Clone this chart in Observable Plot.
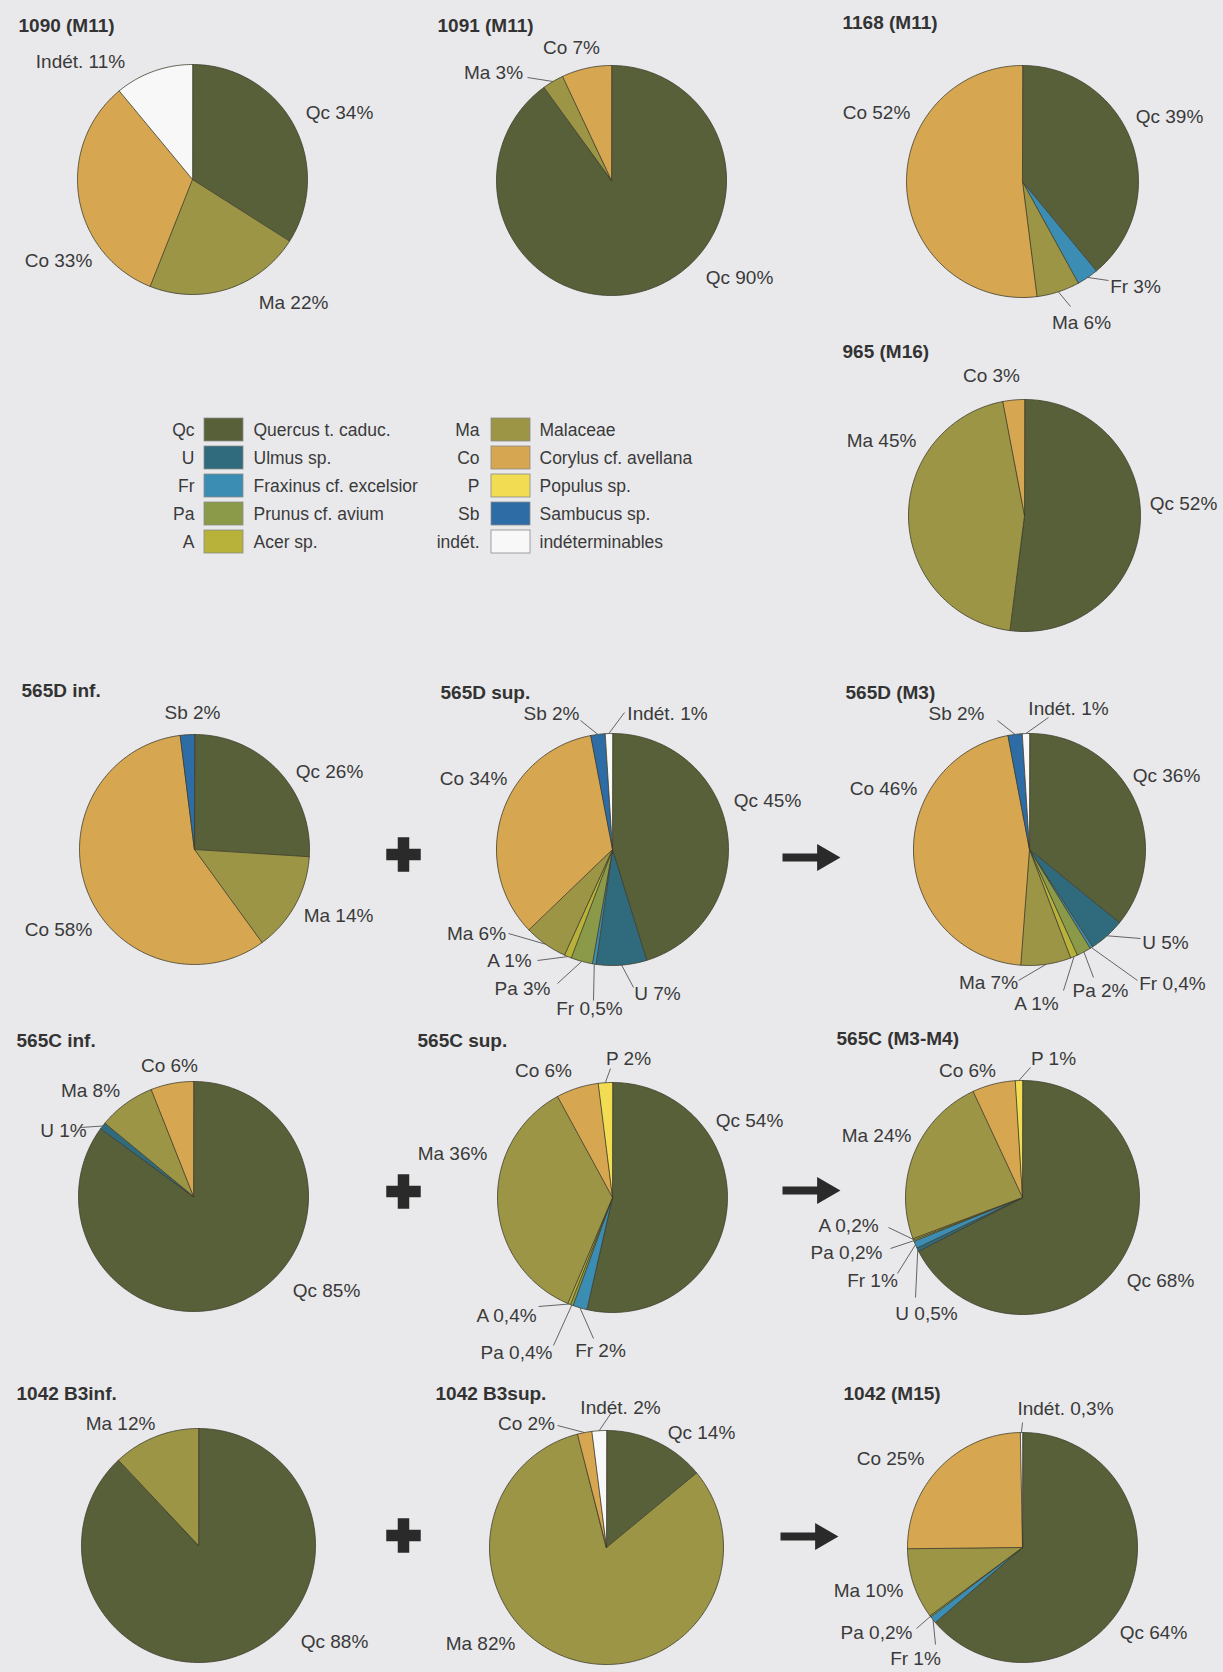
<!DOCTYPE html>
<html><head><meta charset="utf-8">
<script src="https://cdn.jsdelivr.net/npm/d3@7"></script>
<script src="https://cdn.jsdelivr.net/npm/@observablehq/plot@0.6"></script>
<style>
html,body{margin:0;padding:0;background:#e9e9eb;}
</style>
</head><body><div id="chart"></div>
<script>
// ---------- DATA ----------
const speciesKeys  = ["Qc","U","Fr","Pa","A","Ma","Co","P","Sb","Indét."];
const legendAbbr   = ["Qc","U","Fr","Pa","A","Ma","Co","P","Sb","indét."];
const speciesNames = ["Quercus t. caduc.","Ulmus sp.","Fraxinus cf. excelsior","Prunus cf. avium","Acer sp.",
                      "Malaceae","Corylus cf. avellana","Populus sp.","Sambucus sp.","indéterminables"];
const sampleNames  = ["1090 (M11)","1091 (M11)","1168 (M11)","965 (M16)",
                      "565D inf.","565D sup.","565D (M3)",
                      "565C inf.","565C sup.","565C (M3-M4)",
                      "1042 B3inf.","1042 B3sup.","1042 (M15)"];
// percentages, species order: Qc, U, Fr, Pa, A, Ma, Co, P, Sb, Indét.
const v1090     = [34, 0,   0,   0,   0,   22, 33, 0, 0, 11];
const v1091     = [90, 0,   0,   0,   0,   3,  7,  0, 0, 0];
const v1168     = [39, 0,   3,   0,   0,   6,  52, 0, 0, 0];
const v965      = [52, 0,   0,   0,   0,   45, 3,  0, 0, 0];
const v565Dinf  = [26, 0,   0,   0,   0,   14, 58, 0, 2, 0];
const v565Dsup  = [45, 7,   0.5, 3,   1,   6,  34, 0, 2, 1];
const v565DM3   = [36, 5,   0.4, 2,   1,   7,  46, 0, 2, 1];
const v565Cinf  = [85, 1,   0,   0,   0,   8,  6,  0, 0, 0];
const v565Csup  = [54, 0,   2,   0.4, 0.4, 36, 6,  2, 0, 0];
const v565CM34  = [68, 0.5, 1,   0.2, 0.2, 24, 6,  1, 0, 0];
const v1042inf  = [88, 0,   0,   0,   0,   12, 0,  0, 0, 0];
const v1042sup  = [14, 0,   0,   0,   0,   82, 2,  0, 0, 2];
const v1042M15  = [64, 0,   1,   0.2, 0,   10, 25, 0, 0, 0.3];
const sampleValues = [v1090,v1091,v1168,v965,v565Dinf,v565Dsup,v565DM3,v565Cinf,v565Csup,v565CM34,v1042inf,v1042sup,v1042M15];

// ---------- STYLE ----------
const speciesColors = ["#586039","#2f6b7d","#3b8db3","#8a9a48","#b8b13a","#9b9545","#d7a650","#f1dc52","#2e6ca5","#f8f8f8"];
const bg = "#e9e9eb", ink = "#3a3a3a";
const FONT = "Liberation Sans, Arial, Helvetica, sans-serif";

// ---------- LAYOUT (pixel positions) ----------
// label entries: [key, dx, dy] (label centre relative to pie centre), optional [ex, ey] leader end
const layout = [
  {cx:192, cy:179, r:115, t:[18,25],   lab:[["Indét.",-112,-118],["Qc",147,-67],["Ma",101,123],["Co",-134,81]]},
  {cx:611, cy:180, r:115, t:[437,25],  lab:[["Qc",128,97],["Ma",-118,-108,-84,-103],["Co",-40,-133]]},
  {cx:1022,cy:181, r:116, t:[842,22],  lab:[["Qc",147,-65],["Fr",113,105,86,99],["Ma",59,141,48,125],["Co",-146,-69]]},
  {cx:1024,cy:515, r:116, t:[842,351], lab:[["Qc",159,-12],["Ma",-143,-75],["Co",-33,-140]]},
  {cx:194, cy:849, r:115, t:[21,690],  lab:[["Qc",135,-78],["Ma",144,66],["Co",-136,80],["Sb",-2,-137]]},
  {cx:612, cy:849, r:116, t:[440,692], lab:[["Qc",155,-49],["U",45,144,21,138],["Fr",-23,159,-19,151],["Pa",-90,139,-55,134],
                                            ["A",-103,111,-75,111],["Ma",-136,84,-104,84],["Co",-139,-71],["Sb",-61,-136,-32,-129],["Indét.",55,-136,12,-137]]},
  {cx:1029,cy:849, r:116, t:[845,692], lab:[["Qc",137,-74],["U",136,93,111,89],["Fr",143,134,108,131],["Pa",71,141,64,128],
                                            ["A",7,154,34,141],["Ma",-41,133,-11,131],["Co",-146,-61],["Sb",-73,-136,-32,-129],["Indét.",39,-141,19,-132]]},
  {cx:193, cy:1196,r:115, t:[16,1040], lab:[["Qc",133,94],["U",-130,-66,-113,-69],["Ma",-103,-106],["Co",-24,-131]]},
  {cx:612, cy:1197,r:115, t:[417,1040],lab:[["Qc",137,-77],["Fr",-12,153,-19,141],["Pa",-96,155,-59,148],["A",-106,118,-74,109],
                                            ["Ma",-160,-44],["Co",-69,-127],["P",16,-139,-2,-129]]},
  {cx:1022,cy:1197,r:117, t:[836,1038],lab:[["Qc",138,83],["U",-96,116,-107,100],["Fr",-150,83,-125,76],["Pa",-176,55,-132,51],
                                            ["A",-174,28,-134,30],["Ma",-146,-62],["Co",-55,-127],["P",31,-139,8,-130]]},
  {cx:198, cy:1545,r:117, t:[16,1393], lab:[["Qc",136,96],["Ma",-78,-122]]},
  {cx:606, cy:1547,r:117, t:[435,1393],lab:[["Qc",95,-115],["Ma",-126,96],["Co",-80,-124,-49,-122],["Indét.",14,-140,5,-135]]},
  {cx:1022,cy:1547,r:115, t:[843,1393],lab:[["Qc",131,85],["Fr",-107,111,-87,97],["Pa",-146,85,-106,81],["Ma",-154,43],
                                            ["Co",-132,-89],["Indét.",43,-139,0,-125]]}
];
const plusPos  = [[403,854],[403,1191],[403,1535]];
const arrowPos = [[782,840,857],[782,840,1190],[780,838,1536]];
const legendOrigin = [{abbrX:195, boxX:204, textX:253},{abbrX:480, boxX:491, textX:539}];
const legendTop = 418, legendStep = 28, boxW = 39, boxH = 23;

// ---------- BUILD ----------
const fmt = v => String(v).replace(".", ",") + "%";
const pieGen = d3.pie().sort(null).value(d => d.v);
const slicePts = [], labels = [], leaders = [], titles = [];

layout.forEach((p, i) => {
  const items = speciesKeys.map((k, j) => ({k, j, v: sampleValues[i][j]})).filter(d => d.v > 0);
  const arcs = pieGen(items);
  const mid = {};
  arcs.forEach(a => {
    const id = i + "-" + a.data.k, c = speciesColors[a.data.j];
    mid[a.data.k] = (a.startAngle + a.endAngle) / 2;
    const n = Math.max(2, Math.ceil((a.endAngle - a.startAngle) / (Math.PI / 180)));
    slicePts.push({id, c, x: p.cx, y: p.cy});
    for (let t = 0; t <= n; t++) {
      const ang = a.startAngle + (a.endAngle - a.startAngle) * t / n;
      slicePts.push({id, c, x: p.cx + p.r * Math.sin(ang), y: p.cy - p.r * Math.cos(ang)});
    }
  });
  titles.push({x: p.t[0], y: p.t[1], text: sampleNames[i]});
  p.lab.forEach(([k, dx, dy, ex, ey]) => {
    const j = speciesKeys.indexOf(k);
    labels.push({x: p.cx + dx, y: p.cy + dy, text: k + " " + fmt(sampleValues[i][j])});
    if (ex !== undefined) {
      const a = mid[k];
      leaders.push({x1: p.cx + p.r * Math.sin(a), y1: p.cy - p.r * Math.cos(a), x2: p.cx + ex, y2: p.cy + ey});
    }
  });
});

const legend = speciesKeys.map((k, j) => {
  const col = legendOrigin[Math.floor(j / 5)], row = j % 5;
  const top = legendTop + row * legendStep;
  return {abbr: legendAbbr[j], name: speciesNames[j], c: speciesColors[j],
          ax: col.abbrX, bx1: col.boxX, bx2: col.boxX + boxW, tx: col.textX,
          y1: top, y2: top + boxH, ym: top + boxH / 2};
});

const plusData = plusPos.map(([x, y]) => ({x, y}));
const arrowData = arrowPos.map(([x1, x2, y]) => ({x1, x2, y}));

const chart = Plot.plot({
  width: 1223, height: 1672, margin: 0,
  x: {domain: [0, 1223], range: [0, 1223], axis: null},
  y: {domain: [0, 1672], range: [0, 1672], axis: null},
  color: {type: "identity"},
  style: {background: bg, fontFamily: FONT, color: ink},
  marks: [
    Plot.line(slicePts, {x: "x", y: "y", z: "id", fill: "c", stroke: "#3d3c2c", strokeWidth: 0.8, curve: "linear-closed"}),
    Plot.link(leaders, {x1: "x1", y1: "y1", x2: "x2", y2: "y2", stroke: "#555", strokeWidth: 0.9}),
    Plot.text(labels, {x: "x", y: "y", text: "text", fontSize: 19, fill: ink, fontFamily: FONT, textAnchor: "middle", lineAnchor: "middle"}),
    Plot.text(titles, {x: "x", y: "y", text: "text", fontSize: 19, fontWeight: "bold", fill: "#333", fontFamily: FONT, textAnchor: "start", lineAnchor: "middle"}),
    // legend
    Plot.rect(legend, {x1: "bx1", x2: "bx2", y1: "y1", y2: "y2", fill: "c", stroke: "#8a8a8a", strokeWidth: 0.8}),
    Plot.text(legend, {x: "ax", y: "ym", text: "abbr", fontSize: 17.5, fill: ink, fontFamily: FONT, textAnchor: "end", dx: -1}),
    Plot.text(legend, {x: "tx", y: "ym", text: "name", fontSize: 17.5, fill: ink, fontFamily: FONT, textAnchor: "start"}),
    // plus signs and arrows between pies
    Plot.dot(plusData, {x: "x", y: "y", symbol: "cross", r: 14.5, fill: "#2a2a2a", stroke: "none"}),
    Plot.link(arrowData, {x1: "x1", x2: d => d.x2 - 20, y1: "y", y2: "y", stroke: "#2a2a2a", strokeWidth: 8}),
    Plot.dot(arrowData, {x: d => d.x2 - 15.6, y: "y", symbol: "triangle", rotate: 90, r: 10, fill: "#2a2a2a", stroke: "none"})
  ]
});
document.getElementById("chart").appendChild(chart);
</script>
</body></html>
